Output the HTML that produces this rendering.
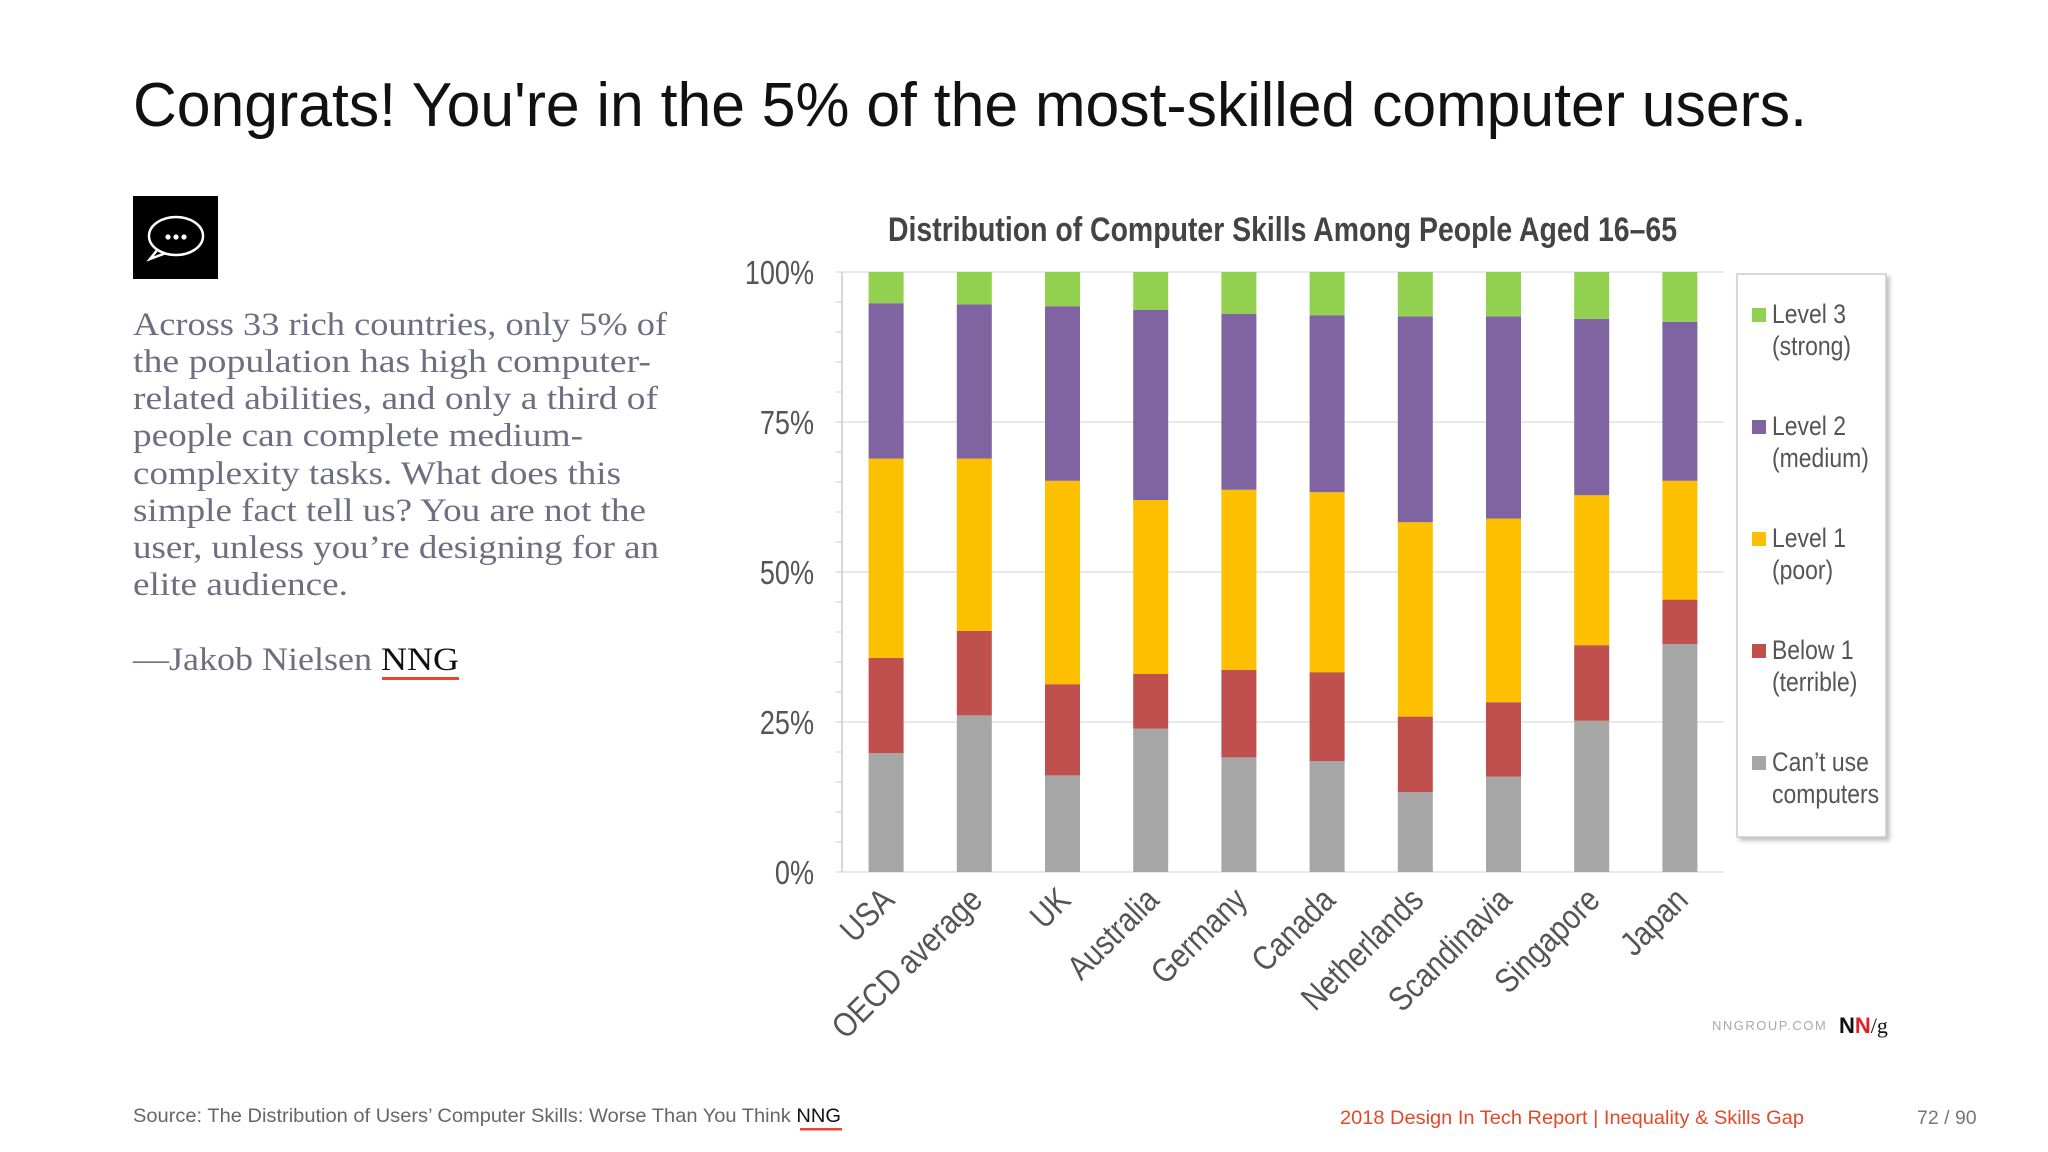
<!DOCTYPE html>
<html><head><meta charset="utf-8"><style>
html,body{margin:0;padding:0;background:#fff;width:2048px;height:1152px;overflow:hidden}
svg{display:block}
.cond{font-family:"Liberation Sans Narrow","Liberation Sans",sans-serif}
</style></head><body>
<svg id="slide" width="2048" height="1152" viewBox="0 0 2048 1152" xmlns="http://www.w3.org/2000/svg">
<text x="133" y="126" font-family="Liberation Sans, sans-serif" font-size="62" fill="#111" textLength="1674" lengthAdjust="spacingAndGlyphs">Congrats! You're in the 5% of the most-skilled computer users.</text>
<g>
<rect x="133" y="196" width="85" height="83" fill="#000"/>
<ellipse cx="176" cy="236" rx="27" ry="19" fill="none" stroke="#fff" stroke-width="2.5"/>
<path d="M158 249 L150 259 L166 253" fill="none" stroke="#fff" stroke-width="2.5"/>
<circle cx="168" cy="237" r="2.6" fill="#fff"/><circle cx="176" cy="237" r="2.6" fill="#fff"/><circle cx="184" cy="237" r="2.6" fill="#fff"/>
</g>
<g font-family="Liberation Serif, serif" font-size="33" fill="#6e6e82">
<text x="133" y="335" textLength="534" lengthAdjust="spacingAndGlyphs">Across 33 rich countries, only 5% of</text>
<text x="133" y="372" textLength="518" lengthAdjust="spacingAndGlyphs">the population has high computer-</text>
<text x="133" y="409" textLength="525" lengthAdjust="spacingAndGlyphs">related abilities, and only a third of</text>
<text x="133" y="446" textLength="450" lengthAdjust="spacingAndGlyphs">people can complete medium-</text>
<text x="133" y="484" textLength="488" lengthAdjust="spacingAndGlyphs">complexity tasks. What does this</text>
<text x="133" y="521" textLength="513" lengthAdjust="spacingAndGlyphs">simple fact tell us? You are not the</text>
<text x="133" y="558" textLength="526" lengthAdjust="spacingAndGlyphs">user, unless you’re designing for an</text>
<text x="133" y="595" textLength="215" lengthAdjust="spacingAndGlyphs">elite audience.</text>
</g>
<text x="133" y="670" font-family="Liberation Serif, serif" font-size="33" fill="#6e6e82" textLength="326" lengthAdjust="spacingAndGlyphs">—Jakob Nielsen <tspan fill="#111">NNG</tspan></text>
<rect x="382" y="677" width="77" height="3" fill="#e8472b"/>

<text class="cond" x="888" y="241" font-size="34" font-weight="bold" fill="#444" textLength="789" lengthAdjust="spacingAndGlyphs">Distribution of Computer Skills Among People Aged 16–65</text>
<g id="chart"></g>
<g>
<rect x="1737" y="274" width="149" height="563" fill="#fff" stroke="#ccc" stroke-width="1.5" style="filter:drop-shadow(3px 3px 2px rgba(0,0,0,0.25))"/>
<g id="legend-items"></g>
</g>
<text x="1712" y="1030" font-family="Liberation Sans, sans-serif" font-size="13" fill="#aaa" letter-spacing="1.5">NNGROUP.COM</text>
<text x="1839" y="1033" font-family="Liberation Sans, sans-serif" font-size="22" font-weight="bold" fill="#111">N<tspan fill="#e0202a">N</tspan><tspan font-weight="normal" font-family="Liberation Serif, serif">/g</tspan></text>

<text x="133" y="1122" font-family="Liberation Sans, sans-serif" font-size="19.5" fill="#666" textLength="708" lengthAdjust="spacingAndGlyphs">Source: The Distribution of Users’ Computer Skills: Worse Than You Think <tspan fill="#111">NNG</tspan></text>
<rect x="800" y="1128" width="42" height="2.5" fill="#e8472b"/>
<text x="1340" y="1124" font-family="Liberation Sans, sans-serif" font-size="19.5" fill="#e04a2a" textLength="464" lengthAdjust="spacingAndGlyphs">2018 Design In Tech Report | Inequality &amp; Skills Gap</text>
<text x="1917" y="1124" font-family="Liberation Sans, sans-serif" font-size="19.5" fill="#777">72 / 90</text>
</svg>
<script>
const categories = ["USA","OECD average","UK","Australia","Germany","Canada","Netherlands","Scandinavia","Singapore","Japan"];
const cantUse   = [19.8,26.1,16.1,23.9,19.1,18.5,13.3,15.9,25.2,38.0];
const below1    = [15.9,14.1,15.2,9.1,14.6,14.8,12.6,12.4,12.6,7.4];
const level1    = [33.2,28.7,33.9,29.0,30.0,30.0,32.4,30.6,25.0,19.8];
const level2    = [25.9,25.7,29.1,31.7,29.3,29.5,34.3,33.7,29.4,26.5];
const level3    = [5.2,5.4,5.7,6.3,7.0,7.2,7.4,7.4,7.8,8.3];
const tickValues = [0,25,50,75,100];
const tickLabels = ["0%","25%","50%","75%","100%"];
const seriesNames = ["Can’t use|computers","Below 1|(terrible)","Level 1|(poor)","Level 2|(medium)","Level 3|(strong)"];

const NS = "http://www.w3.org/2000/svg";
const chart = document.getElementById("chart");
const X0 = 842, X1 = 1724, Y0 = 872, Y1 = 272;
const band = (X1 - X0) / categories.length, barW = 35;
const y = v => Y0 - (v / 100) * (Y0 - Y1);
const xc = i => X0 + band * (i + 0.5);
const colors = ["#a6a6a6","#c0504d","#fdc000","#8064a2","#92d050"];
const series = [cantUse, below1, level1, level2, level3];
function mk(tag, attrs){const e=document.createElementNS(NS,tag);for(const k in attrs)e.setAttribute(k,attrs[k]);return e;}

tickValues.forEach((t,i)=>{
  const g = mk("line",{x1:X0,x2:X1,y1:y(t),y2:y(t),stroke:"#e2e2e2","stroke-width":1.5});
  
  
  chart.appendChild(g);
  const lb = mk("text",{transform:`translate(814,${y(t)+12}) scale(0.82,1)`,"text-anchor":"end","font-size":33,fill:"#555",class:"cond"});
  
  
  lb.textContent = tickLabels[i];
  chart.appendChild(lb);
});
for(let v=0; v<=100; v+=5){
  const tk = mk("line",{x1:X0-6,x2:X0,y1:y(v),y2:y(v),stroke:"#ccc","stroke-width":1});
  
  
  chart.appendChild(tk);
}
const ax = mk("line",{x1:X0,x2:X0,y1:Y1,y2:Y0,stroke:"#ccc","stroke-width":1.5});


chart.appendChild(ax);

categories.forEach((c,i)=>{
  let acc = 0;
  series.forEach((s,k)=>{
    const v = s[i];
    const r = mk("rect",{x:xc(i)-barW/2,y:y(acc+v),width:barW,height:y(acc)-y(acc+v),fill:colors[k]});
    
    
    chart.appendChild(r);
    acc += v;
  });
  const t = mk("text",{transform:`translate(${xc(i)+10},${Y0+30}) rotate(-45) scale(0.85,1)`,"text-anchor":"end","font-size":34,fill:"#555",class:"cond"});
  
  
  t.textContent = c;
  chart.appendChild(t);
});

const li = document.getElementById("legend-items");
for(let j=0;j<5;j++){
  const k = 4-j, yy = 323 + j*112;
  const sq = mk("rect",{x:1752,y:yy-15,width:14,height:14,fill:colors[k]});
  
  
  li.appendChild(sq);
  const parts = seriesNames[k].split("|");
  parts.forEach((p,n)=>{
    const t = mk("text",{transform:`translate(1772,${yy+n*32}) scale(0.85,1)`,"font-size":27,fill:"#555",class:"cond"});
    
    
    t.textContent = p;
    li.appendChild(t);
  });
}
</script>
</body></html>
